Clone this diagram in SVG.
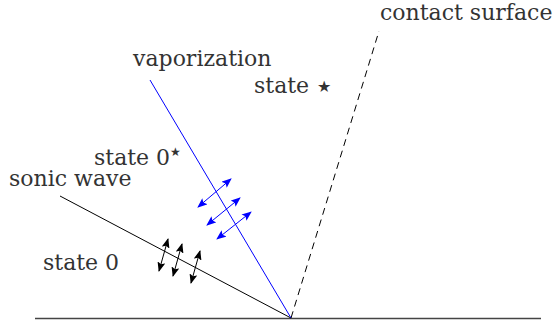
<svg xmlns="http://www.w3.org/2000/svg" width="558" height="325" viewBox="0 0 558 325">
<style>
text{font-family:"DejaVu Serif","Liberation Serif",serif;font-size:22px;fill:#333}
.star{font-family:"DejaVu Sans",sans-serif}
.blk{stroke:#000;stroke-width:1;fill:none}
.blu{stroke:#0000ff;stroke-width:1;fill:none}
.ba{stroke:#000;stroke-width:1;marker-start:url(#hk);marker-end:url(#hk)}
.bb{stroke:#0000ff;stroke-width:1;marker-start:url(#hb);marker-end:url(#hb)}
</style>
<defs>
<marker id="hk" viewBox="0 0 10 8" refX="9" refY="4" markerWidth="10" markerHeight="8" markerUnits="userSpaceOnUse" orient="auto-start-reverse"><path d="M0,0 L10,4 L0,8 L2,4 Z" fill="#000"/></marker>
<marker id="hb" viewBox="0 0 10 8" refX="9" refY="4" markerWidth="10" markerHeight="8" markerUnits="userSpaceOnUse" orient="auto-start-reverse"><path d="M0,0 L10,4 L0,8 L2,4 Z" fill="#0000ff"/></marker>
</defs>
<g id="connectors">
<line x1="35" y1="318.5" x2="541" y2="318.5" stroke="#444" stroke-width="1.4"/>
<line class="blk" x1="60" y1="196" x2="291" y2="318"/>
<line class="blu" x1="150" y1="80" x2="291" y2="318"/>
<line class="blk" x1="291" y1="318" x2="379" y2="31" stroke-dasharray="7,5"/>
<line class="bb" x1="198" y1="207" x2="231" y2="179"/>
<line class="bb" x1="207" y1="225" x2="240" y2="198"/>
<line class="bb" x1="217" y1="239" x2="251" y2="212"/>
<line class="ba" x1="168" y1="239" x2="159" y2="271"/>
<line class="ba" x1="182" y1="244" x2="173" y2="276"/>
<line class="ba" x1="200" y1="251" x2="191" y2="283"/>
</g>
<g id="label-contact"><text x="380" y="20" font-size="21">contact surface</text></g>
<g id="label-vaporization"><text x="133" y="66">vaporization</text></g>
<g id="label-state-star"><text x="254" y="93">state <tspan class="star" font-size="16" dx="1" dy="-1">★</tspan></text></g>
<g id="label-state0star"><text x="94" y="165">state 0<tspan class="star" font-size="12" dy="-9">★</tspan></text></g>
<g id="label-sonic"><text x="9" y="186">sonic wave</text></g>
<g id="label-state0"><text x="43" y="270">state 0</text></g>
</svg>
